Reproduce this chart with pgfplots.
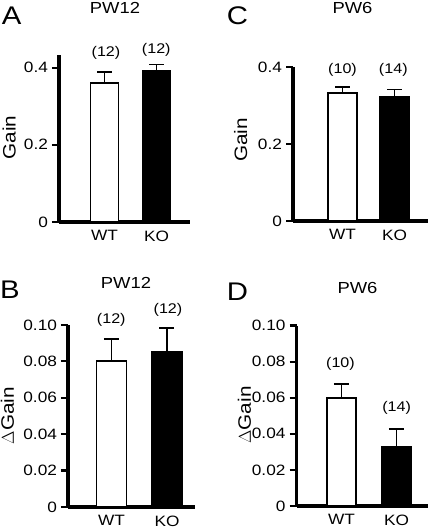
\documentclass[border=0pt]{standalone}
\usepackage{fontspec}
\setmainfont{Liberation Sans}[FakeStretch=1.15]
\usepackage{pgfplots}
\pgfplotsset{compat=1.18}

\pgfplotsset{
  panel/.style={
    scale only axis,
    anchor=south west,
    axis x line*=bottom,
    axis y line*=left,
    every outer x axis line/.append style={line width=3.2pt, black},
    every outer y axis line/.append style={line width=3.2pt, black},
    ymin=0,
    xtick={0,1},
    xticklabels={WT,KO},
    every major y tick/.append style={line width=2.2pt, black},
    every major x tick/.append style={white, opacity=0},
    tick align=outside,
    major tick length=7pt,
    /pgf/number format/assume math mode=true,
    tick label style={font=\fontsize{15}{15}\selectfont},
    yticklabel style={xshift=-0.5pt},
    xticklabel style={yshift=2pt},
    ybar,
    bar shift=0pt,
    clip=false,
    error bars/y dir=plus,
    error bars/y explicit,
    error bars/error bar style={line width=1.8pt, black},
    error bars/error mark options={line width=1.8pt, black, mark size=7.5pt, rotate=90},
  },
  wt/.style={draw=black, fill=white, line width=1.9pt},
  ko/.style={draw=black, fill=black, line width=1.9pt},
}

\begin{document}
\begin{tikzpicture}[x=1pt,y=1pt]
\useasboundingbox (0,0) rectangle (429,528);

% ---------- A ----------
\begin{axis}[panel, at={(59pt,306pt)}, width=131pt, height=166.7pt,
  xmin=-0.875, xmax=1.644, ymax=0.432, bar width=28pt,
  ytick={0,0.2,0.4}, yticklabels={0,0.2,0.4}]
\addplot[wt] coordinates {(0,0.361) +- (0,0.027)};
\addplot[ko] coordinates {(1,0.392) +- (0,0.016)};
\end{axis}

% ---------- C ----------
\begin{axis}[panel, at={(293pt,307pt)}, width=135pt, height=153.7pt,
  xmin=-0.952, xmax=1.644, ymax=0.4, bar width=29pt,
  ytick={0,0.2,0.4}, yticklabels={0,0.2,0.4}]
\addplot[wt] coordinates {(0,0.334) +- (0,0.015)};
\addplot[ko] coordinates {(1,0.323) +- (0,0.019)};
\end{axis}

% ---------- B ----------
\begin{axis}[panel, at={(68pt,21pt)}, width=127pt, height=182pt,
  xmin=-0.784, xmax=1.505, ymax=0.10, bar width=30pt,
  ytick={0,0.02,0.04,0.06,0.08,0.10}, yticklabels={0,0.02,0.04,0.06,0.08,0.10}]
\addplot[wt] coordinates {(0,0.080) +- (0,0.0125)};
\addplot[ko] coordinates {(1,0.085) +- (0,0.0135)};
\end{axis}

% ---------- D ----------
\begin{axis}[panel, at={(296.5pt,22pt)}, width=131.5pt, height=180.5pt,
  xmin=-0.818, xmax=1.573, ymax=0.10, bar width=29pt,
  ytick={0,0.02,0.04,0.06,0.08,0.10}, yticklabels={0,0.02,0.04,0.06,0.08,0.10}]
\addplot[wt] coordinates {(0,0.060) +- (0,0.0074)};
\addplot[ko] coordinates {(1,0.0326) +- (0,0.0102)};
\end{axis}

% ---------- panel letters and titles ----------
\begin{scope}[every node/.style={inner sep=0pt}]
\node[anchor=base, font=\fontsize{25.5}{25.5}\selectfont] at (11.7,503) {A};
\node[anchor=base, font=\fontsize{25.5}{25.5}\selectfont] at (237.5,503) {C};
\node[anchor=base, font=\fontsize{25.5}{25.5}\selectfont] at (10,229) {B};
\node[anchor=base, font=\fontsize{25.5}{25.5}\selectfont] at (237.5,227.3) {D};
\node[anchor=base, font=\fontsize{16}{16}\selectfont] at (115,514.7) {PW12};
\node[anchor=base, font=\fontsize{16}{16}\selectfont] at (352.5,514.7) {PW6};
\node[anchor=base, font=\fontsize{16}{16}\selectfont] at (126,239) {PW12};
\node[anchor=base, font=\fontsize{16}{16}\selectfont] at (357.5,234) {PW6};
% y labels
\node[rotate=90, font=\fontsize{18}{18}\selectfont] at (9.2,390.5) {Gain};
\node[rotate=90, font=\fontsize{18}{18}\selectfont] at (240.8,388) {Gain};
\node[rotate=90, font=\fontsize{18}{18}\selectfont] at (7.5,112.5) {$\Delta$Gain};
\node[rotate=90, font=\fontsize{18}{18}\selectfont] at (244.5,113) {$\Delta$Gain};
% n counts
\node[font=\fontsize{14}{14}\selectfont] at (106,475.2) {(12)};
\node[font=\fontsize{14}{14}\selectfont] at (156.3,478) {(12)};
\node[font=\fontsize{14}{14}\selectfont] at (342.5,457.7) {(10)};
\node[font=\fontsize{14}{14}\selectfont] at (393.3,457.7) {(14)};
\node[font=\fontsize{14}{14}\selectfont] at (111.3,208.3) {(12)};
\node[font=\fontsize{14}{14}\selectfont] at (168,218) {(12)};
\node[font=\fontsize{14}{14}\selectfont] at (340.5,164) {(10)};
\node[font=\fontsize{14}{14}\selectfont] at (396.7,119.7) {(14)};
\end{scope}
\end{tikzpicture}
\end{document}
